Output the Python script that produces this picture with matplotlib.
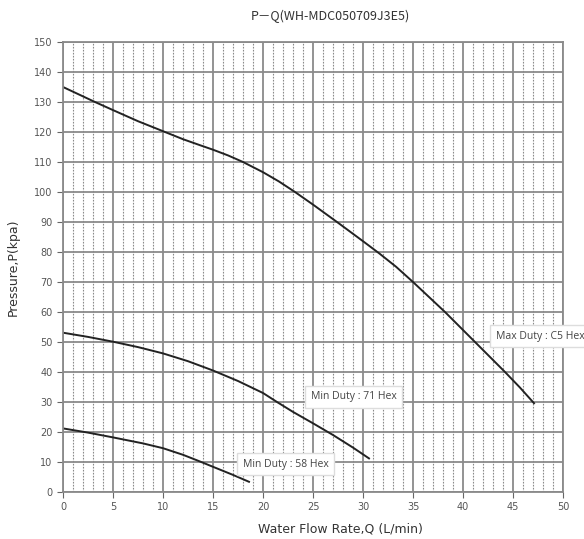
import numpy as np
import matplotlib
matplotlib.use("Agg")
import matplotlib.pyplot as plt
from matplotlib.ticker import MultipleLocator

plt.rcParams["font.family"] = ["DejaVu Sans"]

# P-Q curves (flow L/min, pressure kPa)
q_max = [0, 3.2, 5, 7.5, 10.2, 12, 13.7, 15, 16.5, 18, 20, 21.6, 23.2, 25, 27.4, 30, 31.6,
         33.3, 35, 36.6, 38.2, 39.7, 41.2, 42.7, 44.2, 45.7, 47.1]
p_max = [135, 130, 127.3, 123.6, 120, 117.6, 115.6, 114.1, 112.2, 110, 106.6, 103.5, 100, 95.8,
         90, 83.6, 79.6, 75.1, 70, 65.0, 60, 55, 50, 45, 40, 34.8, 29.6]

q_71 = [0, 2.5, 5, 7.5, 10, 12.5, 15, 17.5, 20, 21.4, 23, 25, 27, 29, 30.6]
p_71 = [53.1, 51.7, 50.1, 48.3, 46.2, 43.6, 40.5, 37.0, 33.0, 30, 26.7, 22.9, 19.0, 14.8, 11.2]

q_58 = [0, 2.5, 5, 8, 10, 12, 13.6, 15, 17, 18.6]
p_58 = [21.2, 19.8, 18.2, 16.2, 14.6, 12.4, 10.3, 8.4, 5.7, 3.4]

labels = ["Max Duty : C5 Hex", "Min Duty : 71 Hex", "Min Duty : 58 Hex"]
label_pos = [(43.3, 52), (24.8, 31.7), (18.0, 9.3)]

fig = plt.figure(figsize=(5.84, 5.39), dpi=100)
ax = fig.add_axes([63/584, 1-492/539, 500/584, 450/539])

ax.set_xlim(0, 50)
ax.set_ylim(0, 150)
ax.xaxis.set_major_locator(MultipleLocator(5))
ax.xaxis.set_minor_locator(MultipleLocator(1))
ax.yaxis.set_major_locator(MultipleLocator(10))

ax.grid(which="minor", axis="x", color="#8a8a8a", lw=0.8, ls=(0, (1.5, 1.2)))
ax.grid(which="major", axis="x", color="#8a8a8a", lw=1.3)
ax.grid(which="major", axis="y", color="#8a8a8a", lw=1.3)
ax.set_axisbelow(True)

for s in ax.spines.values():
    s.set_color("#8a8a8a")
    s.set_linewidth(1.3)

ax.tick_params(which="major", length=4, color="#666", labelsize=7, labelcolor="#555")
ax.tick_params(which="minor", length=0)

for q, p in [(q_max, p_max), (q_71, p_71), (q_58, p_58)]:
    ax.plot(q, p, color="#222222", lw=1.4, solid_joinstyle="round")

for txt, (x, y) in zip(labels, label_pos):
    ax.text(x, y, txt, fontsize=7.5, color="#444", family=["Open Sans", "DejaVu Sans"],
            va="center", ha="left", clip_on=False,
            bbox=dict(boxstyle="square,pad=0.55", fc="white", ec="#dddddd", lw=1))

ax.set_xlabel("Water Flow Rate,Q (L/min)", fontsize=9, color="#333")
ax.xaxis.set_label_coords(0.555, -0.068)
ax.set_ylabel("Pressure,P(kpa)", fontsize=9, color="#333", labelpad=10)

fig.text(0.565, 0.97, "P－Q(WH-MDC050709J3E5)", fontsize=9, color="#333",
         ha="center", va="center", family=["Noto Sans CJK KR", "DejaVu Sans"])

fig.savefig("out.png", dpi=100)
